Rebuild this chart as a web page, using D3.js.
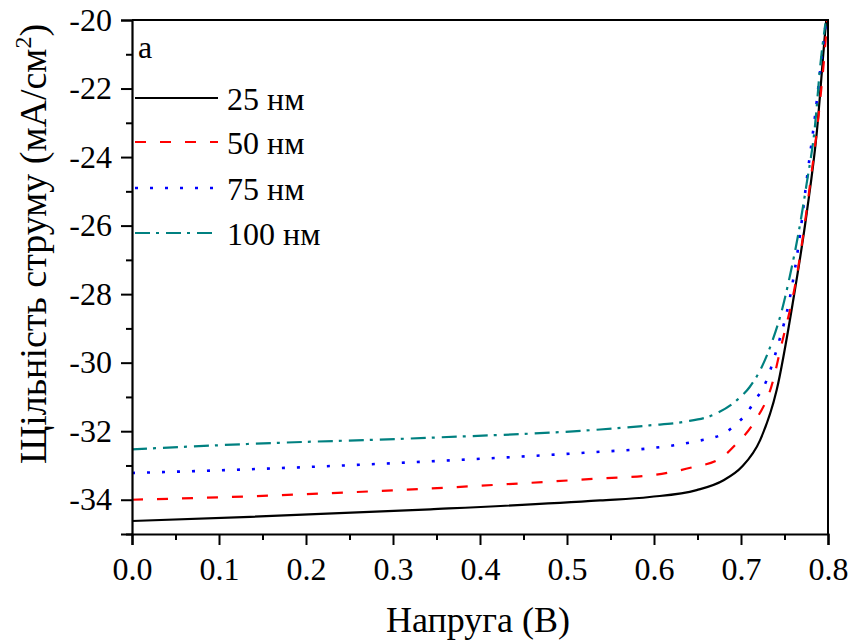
<!DOCTYPE html>
<head>
    <meta charset="utf-8">
    <script src="https://d3js.org/d3.v7.min.js"></script>
    <style>
        *{ margin:0; padding:0; }
        body{ background:#fff; }
    </style>
</head>
<body>
<svg id="chart"></svg>
<script>
    // series data (V in volts, J in mA/cm2)
    const labels = ["25 нм", "50 нм", "75 нм", "100 нм"];
    const colors = ["#000000", "#ff0000", "#0000ff", "#008080"];
    const dashes = [null, "11,14", "3,12", "15,6,3,7"];

    const v25 = [0, 0.136, 0.343, 0.538, 0.595, 0.649, 0.68, 0.701, 0.722, 0.741, 0.76, 0.7755, 0.787, 0.7966, 0.798];
    const j25 = [-34.62, -34.50, -34.28, -34.02, -33.92, -33.72, -33.43, -33.04, -32.26, -30.8, -28.18, -25.64, -23.31, -20.39, -20.0];

    const v50 = [0, 0.136, 0.343, 0.538, 0.599, 0.643, 0.676, 0.695, 0.714, 0.737, 0.745, 0.764, 0.779, 0.791, 0.797, 0.799];
    const j50 = [-34.0, -33.9, -33.67, -33.38, -33.28, -33.06, -32.8, -32.36, -31.78, -30.51, -29.64, -27.49, -24.87, -22.34, -20.68, -20.0];

    const v75 = [0, 0.136, 0.343, 0.538, 0.595, 0.645, 0.68, 0.695, 0.7065, 0.716, 0.726, 0.743, 0.756, 0.768, 0.7755, 0.785, 0.7946, 0.798];
    const j75 = [-33.22, -33.11, -32.88, -32.6, -32.5, -32.31, -32.07, -31.78, -31.48, -31.1, -30.71, -29.44, -28.13, -26.23, -24.67, -22.82, -20.68, -20.0];

    const v100 = [0, 0.136, 0.343, 0.538, 0.595, 0.634, 0.672, 0.695, 0.71, 0.724, 0.735, 0.747, 0.756, 0.766, 0.7755, 0.785, 0.791, 0.797];
    const j100 = [-32.53, -32.37, -32.19, -31.95, -31.83, -31.73, -31.48, -31.1, -30.71, -30.12, -29.44, -28.47, -27.49, -26.23, -24.77, -23.1, -21.36, -20.1];

    const xTicks = [0, 0.1, 0.2, 0.3, 0.4, 0.5, 0.6, 0.7, 0.8];
    const yTicks = [-34, -32, -30, -28, -26, -24, -22, -20];

    const series = [[v25, j25], [v50, j50], [v75, j75], [v100, j100]];

    const W = 851, H = 644;
    const mLeft = 132, mRight = 828, mTop = 20, mBottom = 534;
    const serif = '"Liberation Serif", "DejaVu Serif", serif';

    const svg = d3.select("#chart").attr("width", W).attr("height", H);

    const x = d3.scaleLinear().domain([0, 0.8]).range([mLeft, mRight]);
    const y = d3.scaleLinear().domain([-35, -20]).range([mBottom, mTop]);

    // clip so the curves stop at the frame
    svg.append("clipPath").attr("id", "clip")
        .append("rect").attr("x", mLeft).attr("y", mTop)
        .attr("width", mRight - mLeft).attr("height", mBottom - mTop);

    const line = d3.line()
        .x(d => x(d[0]))
        .y(d => y(d[1]))
        .curve(d3.curveMonotoneX);

    series.forEach((s, i) => {
        const pts = s[0].map((v, k) => [v, s[1][k]]);
        svg.append("path")
            .attr("clip-path", "url(#clip)")
            .attr("d", line(pts))
            .attr("fill", "none")
            .attr("stroke", colors[i])
            .attr("stroke-width", i == 2 ? 2.6 : 2.2)
            .attr("stroke-dasharray", dashes[i]);
    });

    // frame (top and right, no ticks)
    svg.append("path")
        .attr("d", `M${mLeft},${mTop}H${mRight}V${mBottom}`)
        .attr("fill", "none").attr("stroke", "#000").attr("stroke-width", 2);

    // x axis
    svg.append("g").attr("transform", `translate(0,${mBottom})`)
        .call(d3.axisBottom(x).tickValues(xTicks).tickFormat(d3.format(".1f"))
            .tickSize(11).tickPadding(12));
    svg.append("g").attr("transform", `translate(0,${mBottom})`)
        .call(d3.axisBottom(x).tickValues(d3.range(0.05, 0.8, 0.1)).tickFormat("").tickSize(6))
        .select(".domain").remove();

    // y axis
    svg.append("g").attr("transform", `translate(${mLeft},0)`)
        .call(d3.axisLeft(y).tickValues(yTicks).tickFormat(d => String(d))
            .tickSize(11).tickPadding(9));
    svg.append("g").attr("transform", `translate(${mLeft},0)`)
        .call(d3.axisLeft(y).tickValues([-35, -33, -31, -29, -27, -25, -23, -21]).tickFormat("").tickSize(6))
        .select(".domain").remove();

    svg.selectAll(".domain").attr("stroke-width", 2.2);
    svg.selectAll(".tick line").attr("stroke-width", 2);
    svg.selectAll(".tick text")
        .attr("font-family", serif)
        .attr("font-size", 32)
        .attr("fill", "#000");

    // axis titles
    svg.append("text")
        .attr("x", 478).attr("y", 632)
        .attr("text-anchor", "middle")
        .attr("font-family", serif)
        .attr("font-size", 36)
        .text("Напруга (В)");

    const yt = svg.append("text")
        .attr("transform", "translate(46,244) rotate(-90)")
        .attr("text-anchor", "middle")
        .attr("font-family", serif)
        .attr("font-size", 38);
    yt.append("tspan").text("Щільність струму (мА/см");
    yt.append("tspan").attr("dy", -15).attr("font-size", 24).text("2");
    yt.append("tspan").attr("dy", 15).text(")");

    // panel letter
    svg.append("text").attr("x", 138).attr("y", 58)
        .attr("font-family", serif)
        .attr("font-size", 32).text("a");

    // legend
    const legY = [98, 142, 188, 233];
    labels.forEach((lab, i) => {
        svg.append("line")
            .attr("x1", 135).attr("x2", 218)
            .attr("y1", legY[i]).attr("y2", legY[i])
            .attr("stroke", colors[i])
            .attr("stroke-width", i == 2 ? 2.6 : 2.2)
            .attr("stroke-dasharray", dashes[i]);
        svg.append("text")
            .attr("x", 227).attr("y", legY[i] + 12)
            .attr("font-family", serif)
            .attr("font-size", 32)
            .text(lab);
    });
</script>
</body>
</html>
